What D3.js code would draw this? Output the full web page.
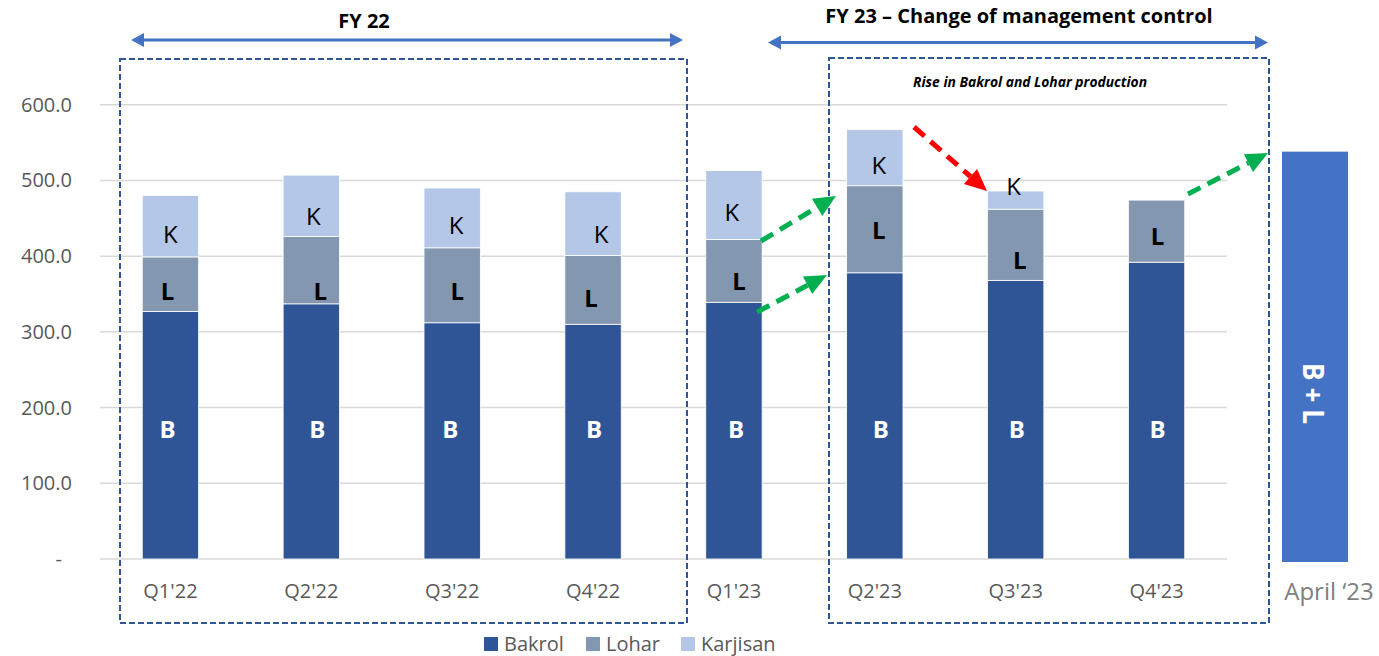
<!DOCTYPE html>
<html>
<head>
<meta charset="utf-8">
<script src="https://cdn.jsdelivr.net/npm/d3@7"></script>
<style>
  html, body { margin: 0; padding: 0; background: #fff; }
  svg { display: block; font-family: "Open Sans", sans-serif; }
</style>
</head>
<body>
<svg id="chart" width="1379" height="656"></svg>
<script>
// ---------- DATA ----------
const categories = ["Q1'22", "Q2'22", "Q3'22", "Q4'22", "Q1'23", "Q2'23", "Q3'23", "Q4'23"];
const bakrol   = [327, 337, 312, 310, 339, 378, 368, 392];
const lohar    = [72, 89, 99, 91, 83, 115, 94, 82];
const karjisan = [81, 81, 79, 84, 91, 74, 24, 0];
const seriesNames = ["Bakrol", "Lohar", "Karjisan"];
const yTicks = [0, 100, 200, 300, 400, 500, 600];
const aprilLabel = "April \u201823";
const aprilValue = 538;
const aprilText = "B + L";
const fy22Title = "FY 22";
const fy23Title = "FY 23 \u2013 Change of management control";
const noteText = "Rise in Bakrol and Lohar production";

// ---------- LAYOUT ----------
const colors = ["#2F5597", "#8497B0", "#B4C7E7"];
const svg = d3.select("#chart");
const plotLeft = 100, plotRight = 1227;
const x = d3.scaleBand().domain(categories).range([plotLeft, plotRight]).paddingInner(0.6).paddingOuter(0.3);
const y = d3.scaleLinear().domain([0, 600]).range([559, 104.7]);
const bw = x.bandwidth();

// gridlines
svg.append("g").selectAll("line").data(yTicks).join("line")
  .attr("x1", plotLeft).attr("x2", plotRight)
  .attr("y1", d => y(d)).attr("y2", d => y(d))
  .attr("stroke", "#d9d9d9").attr("stroke-width", 1.5);

// y axis labels
svg.append("g").selectAll("text").data(yTicks).join("text")
  .attr("x", d => d === 0 ? 62 : 72)
  .attr("y", d => y(d)).attr("dy", "0.35em")
  .attr("text-anchor", "end")
  .attr("fill", "#595959").attr("font-size", 20)
  .text(d => d === 0 ? "-" : d3.format(".1f")(d));

// stacked bars
const rows = categories.map((c, i) => ({ cat: c, Bakrol: bakrol[i], Lohar: lohar[i], Karjisan: karjisan[i] }));
const stacked = d3.stack().keys(seriesNames)(rows);
svg.append("g").selectAll("g").data(stacked).join("g")
  .attr("fill", (d, i) => colors[i])
  .selectAll("rect").data(d => d.filter(s => s[1] - s[0] > 0)).join("rect")
  .attr("x", d => x(d.data.cat))
  .attr("width", bw)
  .attr("y", d => y(d[1]))
  .attr("height", d => y(d[0]) - y(d[1]))
  .attr("stroke", "#ffffff").attr("stroke-width", 0.8);

// x labels
svg.append("g").selectAll("text").data(categories).join("text")
  .attr("x", d => x(d) + bw / 2).attr("y", 598)
  .attr("text-anchor", "middle").attr("fill", "#595959").attr("font-size", 20)
  .text(d => d);

// in-bar segment labels (value-space positions, pixel nudges)
const bLabelAt = 171;
const bDx = [-3, 6, -2, 1, 2, 6, 1, 1];
const lLabelAt = [353, 354, 353, 344, 367, 434, 394, 426];
const lDx = [-3, 9, 5, -2, 5, 4, 4, 1];
const kLabelAt = [429, 453, 441, 429, 458, 520, 492, null];
const kDx = [0, 2, 4, 8, -2, 4, -2, 0];
const lg = svg.append("g").attr("font-size", 24).attr("text-anchor", "middle");
categories.forEach((c, i) => {
  const cx = x(c) + bw / 2;
  lg.append("text").attr("x", cx + bDx[i]).attr("y", y(bLabelAt)).attr("dy", "0.36em")
    .attr("fill", "#fff").attr("font-weight", "bold").text("B");
  lg.append("text").attr("x", cx + lDx[i]).attr("y", y(lLabelAt[i])).attr("dy", "0.36em")
    .attr("fill", "#000").attr("font-weight", "bold").text("L");
  if (kLabelAt[i] !== null) {
    lg.append("text").attr("x", cx + kDx[i]).attr("y", y(kLabelAt[i])).attr("dy", "0.36em")
      .attr("fill", "#000").text("K");
  }
});

// April '23 bar
const aprX = 1282, aprW = 66;
svg.append("rect").attr("x", aprX).attr("width", aprW)
  .attr("y", y(aprilValue)).attr("height", 562 - y(aprilValue)).attr("fill", "#4472C4");
svg.append("text").attr("transform", `translate(${aprX + aprW / 2 - 2},393.5) rotate(90)`)
  .attr("text-anchor", "middle").attr("dy", "0.36em")
  .attr("fill", "#fff").attr("font-weight", "bold").attr("font-size", 29)
  .attr("textLength", 61).attr("lengthAdjust", "spacingAndGlyphs").text(aprilText);
svg.append("text").attr("x", 1329).attr("y", 600).attr("text-anchor", "middle")
  .attr("fill", "#7F7F7F").attr("font-size", 24).text(aprilLabel);

// dashed boxes
const boxes = [[120, 59, 687, 623], [829, 58, 1269, 623]];
svg.append("g").selectAll("rect").data(boxes).join("rect")
  .attr("x", d => d[0]).attr("y", d => d[1])
  .attr("width", d => d[2] - d[0]).attr("height", d => d[3] - d[1])
  .attr("fill", "none").attr("stroke", "#2F5597").attr("stroke-width", 2)
  .attr("stroke-dasharray", "6,3");

// arrow helper
function arrow(g, x0, y0, x1, y1, color, w, dash, hl, hw) {
  const a = Math.atan2(y1 - y0, x1 - x0);
  const bx = x1 - hl * Math.cos(a), by = y1 - hl * Math.sin(a);
  g.append("line").attr("x1", x0).attr("y1", y0).attr("x2", bx).attr("y2", by)
    .attr("stroke", color).attr("stroke-width", w).attr("stroke-dasharray", dash || null);
  const px = -Math.sin(a) * hw / 2, py = Math.cos(a) * hw / 2;
  g.append("path").attr("d", `M${x1},${y1}L${bx + px},${by + py}L${bx - px},${by - py}Z`).attr("fill", color);
}
const ag = svg.append("g");
function dbl(x0, x1, yy) {
  arrow(ag, (x0 + x1) / 2, yy, x1, yy, "#4472C4", 3, null, 13, 14);
  arrow(ag, (x0 + x1) / 2, yy, x0, yy, "#4472C4", 3, null, 13, 14);
}
dbl(131, 683, 40);
dbl(768, 1268, 42.5);

// trend arrows
arrow(ag, 761, 241, 836, 196, "#00B050", 5, "14,8", 22, 20);
arrow(ag, 757, 312, 827, 275, "#00B050", 5, "14,8", 22, 20);
arrow(ag, 1188, 194, 1268, 153, "#00B050", 5, "14,8", 22, 20);
arrow(ag, 914, 127, 987, 191, "#FF0000", 5, "14,8", 22, 20);

// titles
svg.append("text").attr("x", 364).attr("y", 28).attr("text-anchor", "middle")
  .attr("font-weight", "bold").attr("font-size", 20).attr("fill", "#000").text(fy22Title);
svg.append("text").attr("x", 1019).attr("y", 23).attr("text-anchor", "middle")
  .attr("font-weight", "bold").attr("font-size", 20).attr("fill", "#000").text(fy23Title);
svg.append("text").attr("x", 1030).attr("y", 87).attr("text-anchor", "middle")
  .attr("font-weight", "bold").attr("font-style", "italic").attr("font-size", 14)
  .attr("textLength", 234).attr("lengthAdjust", "spacingAndGlyphs").attr("fill", "#000").text(noteText);

// legend
const legX = [484, 586, 681];
const leg = svg.append("g");
seriesNames.forEach((n, i) => {
  leg.append("rect").attr("x", legX[i]).attr("y", 637).attr("width", 14).attr("height", 14).attr("fill", colors[i]);
  leg.append("text").attr("x", legX[i] + 20).attr("y", 651).attr("font-size", 20).attr("fill", "#595959").text(n);
});
</script>
</body>
</html>
